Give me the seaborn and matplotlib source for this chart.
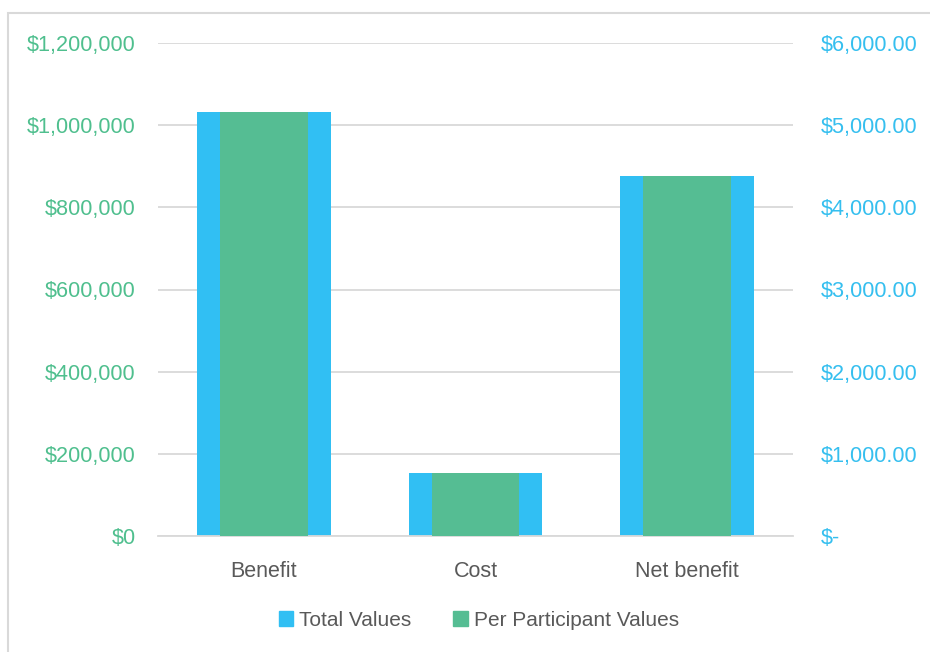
import matplotlib
matplotlib.use("Agg")
import matplotlib.pyplot as plt
from matplotlib.patches import Patch, Rectangle
from matplotlib.ticker import FuncFormatter, MultipleLocator
import seaborn as sns

categories = ["Benefit", "Cost", "Net benefit"]
total_values = [1031000, 153000, 877000]
per_participant_values = [5155, 765, 4385]

blue = "#31BFF3"
green = "#55BD93"
left_lab = "#4FBF8E"
right_lab = "#35BFEF"
grey_txt = "#595959"
grid_col = "#D9D9D9"

sns.set_style("white")
plt.rcParams["font.family"] = ["Liberation Sans", "DejaVu Sans"]

fig = plt.figure(figsize=(9.3, 6.52), dpi=100)
ax = fig.add_axes([158 / 930, 116 / 652, 635 / 930, 493 / 652])

# outer chart border like the Excel chart area
fig.patches.append(Rectangle((8 / 930, -0.1), 1.1, (652 - 13) / 652 + 0.1,
                             transform=fig.transFigure, fill=False,
                             edgecolor=grid_col, linewidth=1.5))

sns.barplot(x=categories, y=total_values, ax=ax, color=blue, width=0.632,
            saturation=1, linewidth=0)
ax2 = ax.twinx()
sns.barplot(x=categories, y=per_participant_values, ax=ax2, color=green,
            width=0.415, saturation=1, linewidth=0)

ax.set_xlim(-0.5, 2.5)
ax.set_ylim(0, 1200000)
ax2.set_ylim(0, 6000)
ax.yaxis.set_major_locator(MultipleLocator(200000))
ax2.yaxis.set_major_locator(MultipleLocator(1000))
ax.yaxis.set_major_formatter(FuncFormatter(lambda v, p: f"${v:,.0f}"))
ax2.yaxis.set_major_formatter(FuncFormatter(lambda v, p: "$-" if v == 0 else f"${v:,.2f}"))

ax.grid(axis="y", color=grid_col, linewidth=1.3)
ax.set_axisbelow(True)
for s in ["left", "right", "top"]:
    ax.spines[s].set_visible(False)
    ax2.spines[s].set_visible(False)
ax.spines["bottom"].set_color(grid_col)
ax.spines["bottom"].set_linewidth(1.3)
ax2.spines["bottom"].set_visible(False)

ax.tick_params(axis="y", length=0, pad=16, labelsize=15.6, labelcolor=left_lab)
ax2.tick_params(axis="y", length=0, pad=20, labelsize=15.6, labelcolor=right_lab)
ax.tick_params(axis="x", length=0, pad=18, labelsize=15.5, labelcolor=grey_txt)
ax.set_xlabel("")
ax.set_ylabel("")
ax2.set_ylabel("")

handles = [Patch(color=blue, label="Total Values"),
           Patch(color=green, label="Per Participant Values")]
fig.legend(handles=handles, loc="center", bbox_to_anchor=(479 / 930, 1 - 620 / 652),
           ncol=2, frameon=False, fontsize=15, labelcolor=grey_txt,
           handlelength=0.7, handleheight=0.7, handletextpad=0.3, columnspacing=2.0)

fig.savefig("out.png", dpi=100)
